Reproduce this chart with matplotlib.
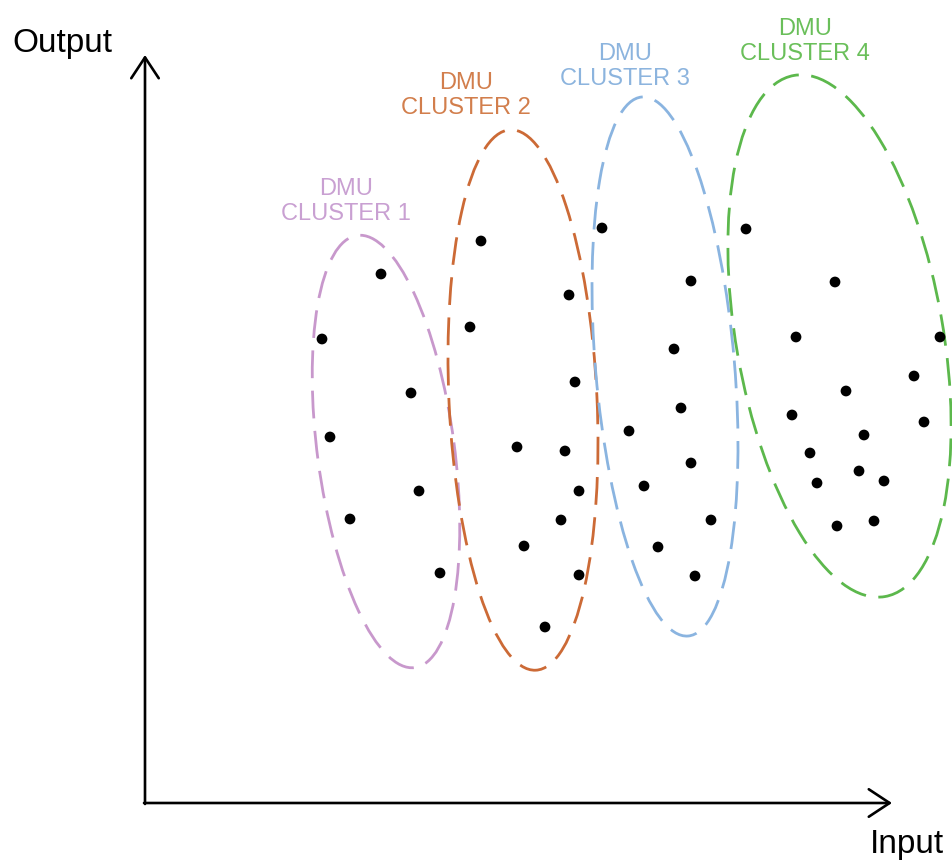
import matplotlib.pyplot as plt
from matplotlib.patches import Ellipse

plt.rcParams['font.family'] = ['Liberation Sans', 'DejaVu Sans']

# DMU points per cluster (positions, y grows downward)
c1_x = [381, 322, 411, 330, 419, 350, 440]
c1_y = [274, 339, 393, 437, 491, 519, 573]
c2_x = [481, 470, 569, 575, 517, 565, 579, 561, 524, 579, 545]
c2_y = [241, 327, 295, 382, 447, 451, 491, 520, 546, 575, 627]
c3_x = [602, 691, 674, 681, 629, 691, 644, 711, 658, 695]
c3_y = [228, 281, 349, 408, 431, 463, 486, 520, 547, 576]
c4_x = [746, 835, 796, 940, 914, 846, 792, 924, 864, 810, 859, 817, 884, 837, 874]
c4_y = [229, 282, 337, 337, 376, 391, 415, 422, 435, 453, 471, 483, 481, 526, 521]

# cluster envelopes: centre, major, minor, angle
ell_cx = [386, 523, 665, 839.5]
ell_cy = [451.5, 400, 366.5, 336]
ell_major = [436, 541, 541, 529]
ell_minor = [137, 148, 139, 207]
ell_angle = [82.4, 87.3, 85.1, 80.1]

labels = ['DMU\nCLUSTER 1', 'DMU\nCLUSTER 2', 'DMU\nCLUSTER 3', 'DMU\nCLUSTER 4']
label_x = [346, 466, 625, 805]
label_y = [220, 114, 85, 60]
line_colors = ['#c898cc', '#cc6a36', '#8ab4e0', '#5cb84c']
text_colors = ['#c9a0d2', '#d27e4c', '#8cb4de', '#6abf5a']

fig = plt.figure(figsize=(9.53, 8.64), dpi=100)
ax = fig.add_axes([0, 0, 1, 1])
ax.set_xlim(0, 953)
ax.set_ylim(864, 0)
ax.axis('off')

# axes with open arrow heads
arrow = dict(arrowstyle='->,head_length=1,head_width=0.66', lw=1.9,
             color='black', mutation_scale=15, shrinkA=0, shrinkB=0)
ax.annotate('', xy=(145, 55), xytext=(145, 804), arrowprops=arrow)
ax.annotate('', xy=(892, 803), xytext=(144, 803), arrowprops=arrow)
ax.text(12, 52, 'Output', fontsize=24, ha='left', va='baseline')
ax.text(870, 853, 'Input', fontsize=24, ha='left', va='baseline')

for i in range(4):
    e = Ellipse((ell_cx[i], ell_cy[i]), ell_major[i], ell_minor[i], angle=ell_angle[i],
                fill=False, edgecolor=line_colors[i], lw=2, linestyle=(0, (10, 4.5)))
    ax.add_patch(e)
    ax.text(label_x[i], label_y[i], labels[i], fontsize=17, color=text_colors[i],
            ha='center', va='baseline', linespacing=1.2, multialignment='center')

for xs, ys in [(c1_x, c1_y), (c2_x, c2_y), (c3_x, c3_y), (c4_x, c4_y)]:
    ax.scatter(xs, ys, s=60, color='black', zorder=3, edgecolors='none')

plt.savefig('out.png', dpi=100)
